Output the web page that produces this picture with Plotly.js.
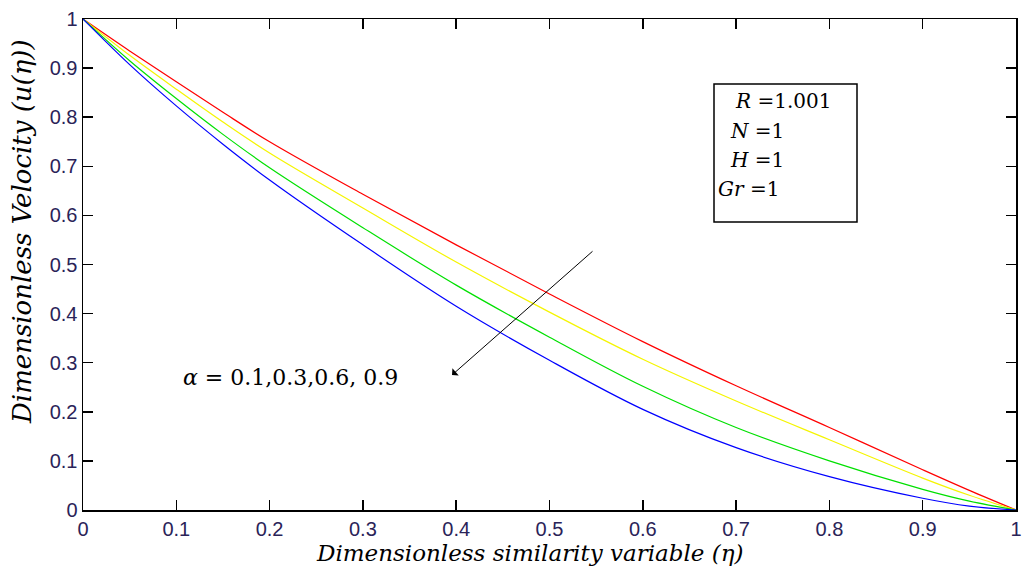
<!DOCTYPE html>
<html>
<head>
<meta charset="utf-8">
<script src="https://cdn.plot.ly/plotly-3.0.1.min.js"></script>
<style>html,body{margin:0;padding:0;background:#fff;}#chart{width:1028px;height:571px;}</style>
</head>
<body>
<div id="chart"></div>
<script>
const eta = [0, 0.05, 0.1, 0.15, 0.2, 0.3, 0.4, 0.5, 0.6, 0.7, 0.8, 0.9, 0.95, 1];
const uAlpha01 = [1, 0.935, 0.872, 0.81, 0.75, 0.643, 0.54, 0.44, 0.343, 0.253, 0.168, 0.082, 0.04, 0];
const uAlpha03 = [1, 0.926, 0.857, 0.79, 0.727, 0.615, 0.505, 0.403, 0.307, 0.222, 0.143, 0.065, 0.03, 0];
const uAlpha06 = [1, 0.915, 0.838, 0.765, 0.697, 0.575, 0.458, 0.352, 0.252, 0.168, 0.1, 0.042, 0.018, 0];
const uAlpha09 = [1, 0.907, 0.823, 0.745, 0.672, 0.54, 0.415, 0.305, 0.205, 0.127, 0.068, 0.024, 0.008, 0];
const seriesNames = ['α = 0.1', 'α = 0.3', 'α = 0.6', 'α = 0.9'];
const seriesColors = ['#ff0000', '#f5f500', '#00e000', '#0000ff'];
const tickVals = [0, 0.1, 0.2, 0.3, 0.4, 0.5, 0.6, 0.7, 0.8, 0.9, 1];
const tickText = ['0', '0.1', '0.2', '0.3', '0.4', '0.5', '0.6', '0.7', '0.8', '0.9', '1'];

const ys = [uAlpha01, uAlpha03, uAlpha06, uAlpha09];
const traces = ys.map((y, i) => ({
  x: eta, y: y, type: 'scatter', mode: 'lines', name: seriesNames[i],
  line: {color: seriesColors[i], width: 1.2, shape: 'spline', smoothing: 1}
}));

const tickFont = {family: 'Liberation Sans, Arial, sans-serif', size: 20, color: '#2a2358'};
const serif = 'DejaVu Serif, serif';

const axisCommon = {
  range: [0, 1], tickvals: tickVals, ticktext: tickText,
  ticks: 'inside', ticklen: 10, tickwidth: 1.5, tickcolor: '#000',
  showline: true, linecolor: '#000', linewidth: 1.5, mirror: 'ticks',
  showgrid: false, zeroline: false, tickfont: tickFont
};

const layout = {
  width: 1028, height: 571,
  margin: {l: 83, r: 12, t: 19, b: 61},
  paper_bgcolor: '#fff', plot_bgcolor: '#fff',
  showlegend: false,
  xaxis: Object.assign({}, axisCommon),
  yaxis: Object.assign({}, axisCommon),
  shapes: [
    {type: 'rect', xref: 'paper', yref: 'paper', x0: (714-83)/933, x1: (857-83)/933, y0: (510-222)/491, y1: (510-84)/491,
     line: {color: '#000', width: 1.5}, fillcolor: 'rgba(0,0,0,0)'}
  ],
  annotations: [
    {xref: 'paper', yref: 'paper', x: (530-83)/933, y: (510-553)/491, xanchor: 'center', yanchor: 'middle', showarrow: false,
     text: '<i>Dimensionless similarity variable (η)</i>', font: {family: serif, size: 23, color: '#000'}},
    {xref: 'paper', yref: 'paper', x: (22-83)/933, y: (510-232)/491, xanchor: 'center', yanchor: 'middle', showarrow: false,
     textangle: -90, text: '<i>Dimensionless Velocity (u(η))</i>', font: {family: serif, size: 26, color: '#000'}},
    {xref: 'paper', yref: 'paper', x: (733-83)/933, y: (510-101)/491, xanchor: 'left', yanchor: 'middle', showarrow: false,
     text: '<i>R</i> =1.001', font: {family: serif, size: 20, color: '#000'}},
    {xref: 'paper', yref: 'paper', x: (728-83)/933, y: (510-131)/491, xanchor: 'left', yanchor: 'middle', showarrow: false,
     text: '<i>N</i> =1', font: {family: serif, size: 20, color: '#000'}},
    {xref: 'paper', yref: 'paper', x: (728-83)/933, y: (510-160)/491, xanchor: 'left', yanchor: 'middle', showarrow: false,
     text: '<i>H</i> =1', font: {family: serif, size: 20, color: '#000'}},
    {xref: 'paper', yref: 'paper', x: (716-83)/933, y: (510-189)/491, xanchor: 'left', yanchor: 'middle', showarrow: false,
     text: '<i>Gr</i> =1', font: {family: serif, size: 20, color: '#000'}},
    {xref: 'paper', yref: 'paper', x: (181-83)/933, y: (510-377)/491, xanchor: 'left', yanchor: 'middle', showarrow: false,
     text: '<i>α</i> = 0.1,0.3,0.6, 0.9', font: {family: serif, size: 22, color: '#000'}},
    {xref: 'paper', yref: 'paper', axref: 'pixel', ayref: 'pixel',
     x: (452-83)/933, y: (510-375)/491, ax: 142, ay: -125, text: '', showarrow: true,
     arrowhead: 1, arrowsize: 1.6, arrowwidth: 1, arrowcolor: '#000'}
  ]
};

Plotly.newPlot('chart', traces, layout, {displayModeBar: false, staticPlot: true});
</script>
</body>
</html>
